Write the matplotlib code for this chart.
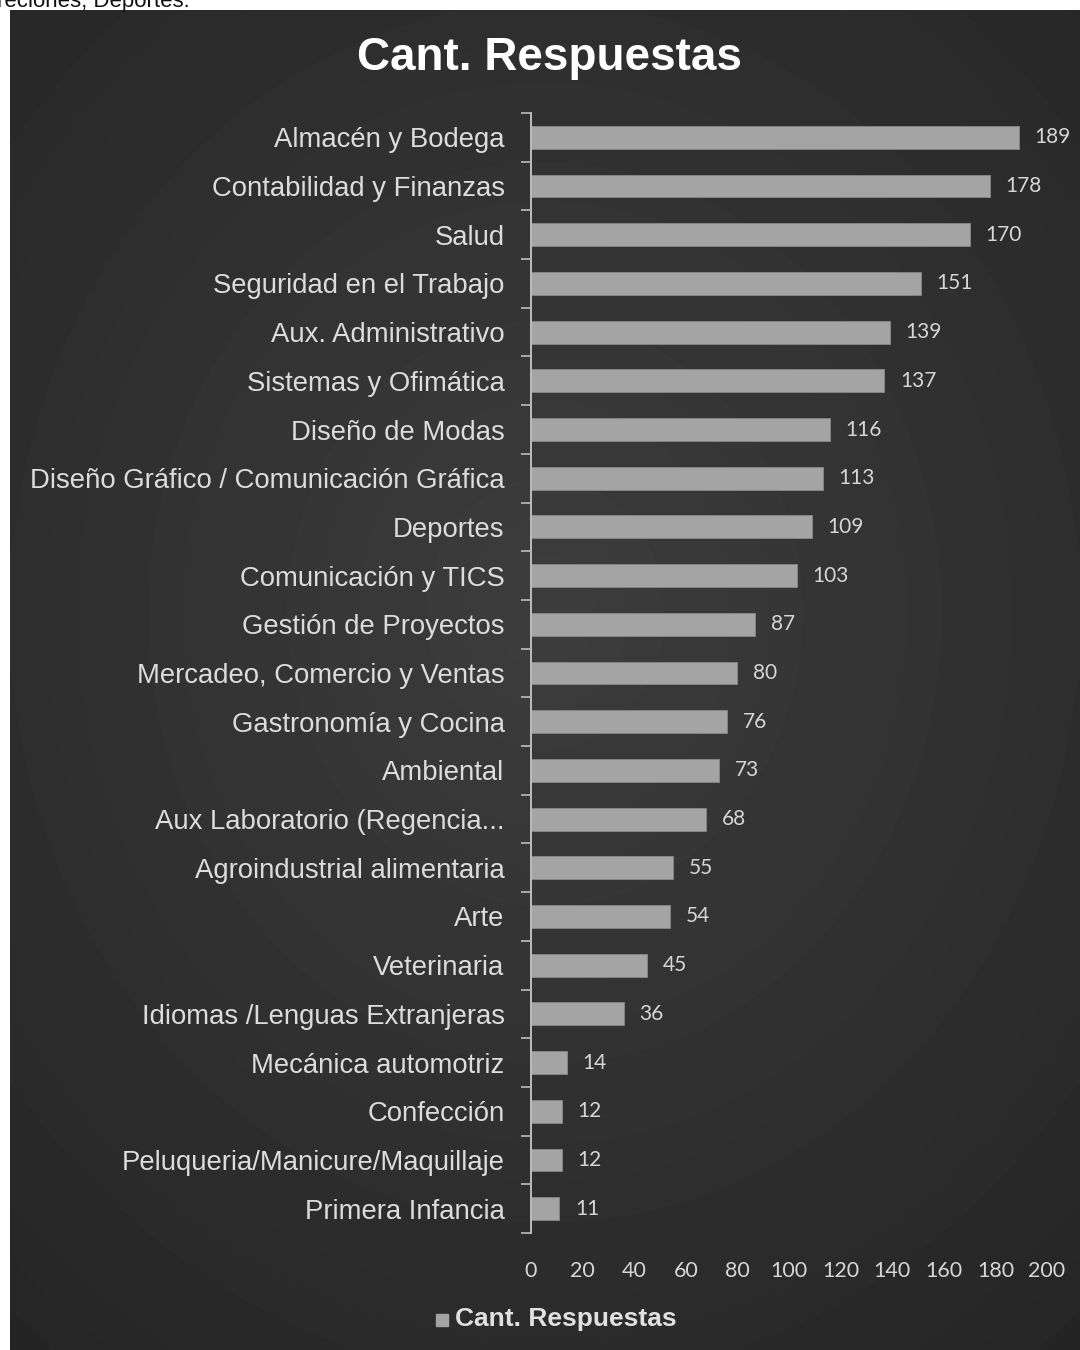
import matplotlib.pyplot as plt
import numpy as np

categorias = [
    "Almacén y Bodega", "Contabilidad y Finanzas", "Salud",
    "Seguridad en el Trabajo", "Aux. Administrativo", "Sistemas y Ofimática",
    "Diseño de Modas", "Diseño Gráfico / Comunicación Gráfica", "Deportes",
    "Comunicación y TICS", "Gestión de Proyectos",
    "Mercadeo, Comercio y Ventas", "Gastronomía y Cocina", "Ambiental",
    "Aux Laboratorio (Regencia...", "Agroindustrial alimentaria", "Arte",
    "Veterinaria", "Idiomas /Lenguas Extranjeras", "Mecánica automotriz",
    "Confección", "Peluqueria/Manicure/Maquillaje", "Primera Infancia",
]
respuestas = [189, 178, 170, 151, 139, 137, 116, 113, 109, 103, 87, 80, 76,
              73, 68, 55, 54, 45, 36, 14, 12, 12, 11]
ticks_x = list(range(0, 201, 20))

W, H = 1080, 1350
fig = plt.figure(figsize=(W / 100, H / 100), dpi=100, facecolor="white")

# texto cortado del documento, arriba
fig.text(-3 / W, 1 - 7 / H, "reciones, Deportes.", fontsize=16,
         family="Liberation Sans", color="#111111", va="baseline")

# panel oscuro con un leve degradado
bg = fig.add_axes([10 / W, 0, 1 - 10 / W, 1 - 10 / H], zorder=1)
yy, xx = np.mgrid[0:1:200j, 0:1:200j]
r = np.sqrt((xx - 0.5) ** 2 + ((yy - 0.45) * 1.1) ** 2)
bg.imshow(0.24 - 0.12 * r, cmap="gray", vmin=0, vmax=1, aspect="auto",
          extent=[0, 1, 0, 1], interpolation="bicubic")
bg.set_axis_off()

ax = fig.add_axes([531 / W, 1 - 1233 / H, (1047 - 531) / W, (1233 - 113) / H],
                  zorder=2)
ax.patch.set_alpha(0)
pos = np.arange(len(categorias))
ax.barh(pos, respuestas, height=0.47, color="#a4a4a4", edgecolor="#888888",
        linewidth=0.6)
for p, v in zip(pos, respuestas):
    ax.text(v + 6, p, str(v), va="center", ha="left", fontsize=15,
            family="Lato", color="#d6d6d6")

ax.set_ylim(len(categorias) - 0.5, -0.5)
ax.set_xlim(0, 200)
ax.set_yticks(pos)
ax.set_yticklabels(categorias, family="Liberation Sans", fontsize=19.8,
                   color="#dcdcdc")
ax.set_yticks(np.arange(-0.5, len(categorias)), minor=True)
ax.tick_params(axis="y", which="major", length=0, pad=19)
ax.tick_params(axis="y", which="minor", length=7, color="#bdbdbd", width=1.2)
ax.set_xticks(ticks_x)
ax.set_xticklabels([str(t) for t in ticks_x], family="Lato", fontsize=15.5,
                   color="#d6d6d6")
ax.tick_params(axis="x", length=0, pad=20)
for s in ["top", "right", "bottom"]:
    ax.spines[s].set_visible(False)
ax.spines["left"].set_color("#bdbdbd")
ax.spines["left"].set_linewidth(1.4)

fig.text(549 / W, 1 - 58 / H, "Cant. Respuestas", ha="center", va="center",
         fontsize=33, fontweight="bold", family="Liberation Sans",
         color="white", zorder=3)

# leyenda
fig.patches.append(plt.Rectangle((436 / W, 1 - 1326 / H), 12 / W, 12 / H,
                                 transform=fig.transFigure, color="#a4a4a4",
                                 zorder=3))
fig.text(455 / W, 1 - 1319 / H, "Cant. Respuestas", ha="left", va="center",
         fontsize=19, fontweight="bold", family="Liberation Sans",
         color="#e0e0e0", zorder=3)

fig.savefig("out.png", dpi=100, facecolor="white")
